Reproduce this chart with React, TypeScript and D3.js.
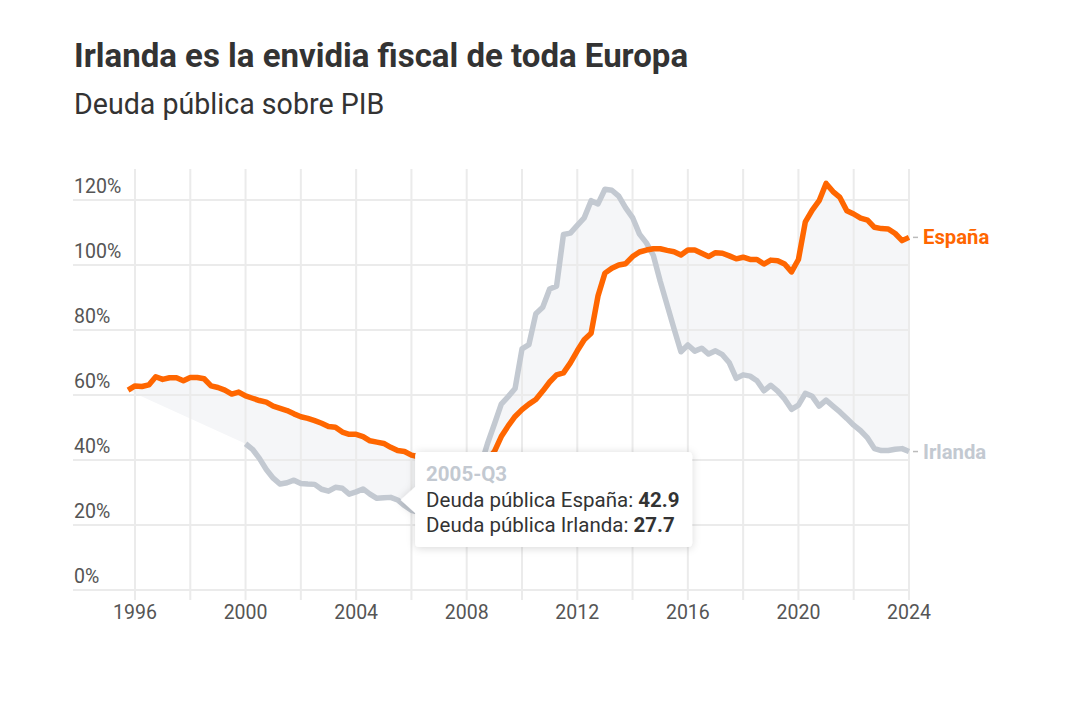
import * as d3 from "d3";

// trimestres: España desde 1995-Q4, Irlanda desde 2000-Q1
const spainStart = 1995.75;
const irelandStart = 2000;

const spain = [
  61.5, 62.8, 62.6, 63.1, 65.6, 64.8, 65.3, 65.3, 64.4, 65.4,
  65.4, 65.0, 62.8, 62.3, 61.5, 60.3, 60.9, 59.7, 59.0, 58.3,
  57.8, 56.6, 55.9, 55.2, 54.2, 53.3, 52.8, 52.1, 51.3, 50.3,
  50.1, 48.6, 47.9, 47.9, 47.2, 45.9, 45.5, 45.1, 43.9, 42.9,
  42.6, 41.5, 41.0, 40.2, 39.0, 38.6, 38.0, 37.0, 35.8, 36.0,
  37.3, 38.5, 40.0, 42.6, 47.2, 50.5, 53.4, 55.5, 57.2, 58.6,
  61.2, 64.0, 66.2, 66.8, 69.9, 73.6, 77.0, 79.0, 90.5, 97.5,
  99.0, 100.0, 100.4, 102.6, 104.0, 104.6, 105.0, 105.0, 104.5, 104.1,
  103.1, 104.6, 104.6, 103.6, 102.6, 103.8, 103.6, 102.8, 101.9, 102.4,
  101.7, 101.7, 100.3, 101.5, 101.3, 100.3, 97.9, 101.7, 113.3, 116.9,
  119.8, 125.1, 122.6, 120.8, 116.7, 115.7, 114.4, 113.8, 111.6, 111.2,
  111.1, 109.7, 107.5, 108.5,
];

const ireland = [
  45.0, 43.3, 40.5, 37.1, 34.4, 32.6, 33.0, 33.8, 32.8, 32.6,
  32.5, 31.0, 30.4, 31.6, 31.3, 29.5, 30.2, 31.1, 29.5, 28.2,
  28.4, 28.5, 27.7, 26.0, 24.5, 24.0, 23.8, 23.6, 24.2, 24.6,
  24.8, 23.9, 25.5, 28.5, 38.0, 45.0, 51.0, 57.2, 59.5, 62.0,
  74.2, 75.5, 85.0, 87.0, 92.6, 93.5, 109.4, 109.8, 112.2, 114.5,
  119.8, 118.8, 123.3, 123.0, 121.2, 117.6, 114.6, 109.5, 106.8, 103.0,
  95.0, 87.7, 80.4, 73.3, 75.4, 73.5, 74.4, 72.6, 73.6, 72.4,
  69.9, 65.1, 66.2, 65.8, 64.4, 61.3, 63.0, 61.2, 58.8, 55.6,
  56.9, 60.5, 59.6, 56.6, 58.4, 56.6, 54.8, 52.8, 50.7, 49.0,
  46.8, 43.5, 42.9, 42.9, 43.3, 43.5, 42.6,
];

const yTicks = [0, 20, 40, 60, 80, 100, 120];
const xLabelYears = [1996, 2000, 2004, 2008, 2012, 2016, 2020, 2024];
const xGridYears = [1996, 1998, 2000, 2002, 2004, 2006, 2008, 2010, 2012, 2014, 2016, 2018, 2020, 2022, 2024];

const hoverQuarter = "2005-Q3";

const W = 1087;
const H = 718;
const orange = "#ff6600";
const grey = "#c3c9d1";
const font = "Roboto, sans-serif";

type Pt = { t: number; v: number };

export default function App() {
  const x = d3.scaleLinear().domain([1996, 2024]).range([135, 909]);
  const y = d3.scaleLinear().domain([0, 120]).range([590, 200]);

  const spainPts: Pt[] = spain.map((v, i) => ({ t: spainStart + i * 0.25, v }));
  const irelandPts: Pt[] = ireland.map((v, i) => ({ t: irelandStart + i * 0.25, v }));

  const line = d3.line<Pt>().x(d => x(d.t)).y(d => y(d.v));

  // sombreado entre las dos series
  const areaPts = [...spainPts, ...irelandPts.slice().reverse()];
  const areaPath = line(areaPts) + "Z";

  const hy = +hoverQuarter.slice(0, 4);
  const hq = +hoverQuarter.slice(-1);
  const ht = hy + (hq - 1) / 4;
  const hs = spainPts.find(d => d.t === ht)!;
  const hi = irelandPts.find(d => d.t === ht)!;
  const tipX = x(ht) + 3;
  const tipY = y(hi.v);
  const bx = tipX + 14.5;
  const by = tipY - 48;
  const bw = 277;
  const bh = 95;
  const r = 4;
  const tooltipPath =
    `M${bx + r},${by} H${bx + bw - r} Q${bx + bw},${by} ${bx + bw},${by + r} ` +
    `V${by + bh - r} Q${bx + bw},${by + bh} ${bx + bw - r},${by + bh} ` +
    `H${bx + r} Q${bx},${by + bh} ${bx},${by + bh - r} ` +
    `V${tipY + 13} L${tipX},${tipY} L${bx},${tipY - 13} ` +
    `V${by + r} Q${bx},${by} ${bx + r},${by} Z`;

  const lastS = spainPts[spainPts.length - 1];
  const lastI = irelandPts[irelandPts.length - 1];

  return (
    <svg width={W} height={H} style={{ position: "absolute", left: 0, top: 0, background: "#fff" }} fontFamily={font}>
      <defs>
        <filter id="shadow" x="-20%" y="-30%" width="140%" height="160%">
          <feDropShadow dx="0" dy="1" stdDeviation="4" floodColor="#000" floodOpacity="0.16" />
        </filter>
      </defs>

      <text x={74} y={67} fontSize={33} fontWeight={700} fill="#333">Irlanda es la envidia fiscal de toda Europa</text>
      <text x={74} y={114} fontSize={28.6} fill="#333">Deuda pública sobre PIB</text>

      <path d={areaPath} fill="#f5f6f8" stroke="none" />

      {xGridYears.map(yr => (
        <line key={"v" + yr} x1={x(yr)} x2={x(yr)} y1={169} y2={600} stroke="#ebebeb" strokeWidth={2} />
      ))}
      {yTicks.map(t => (
        <g key={"h" + t}>
          <line x1={73} x2={x(2024)} y1={y(t)} y2={y(t)} stroke="#ebebeb" strokeWidth={2} />
          <text x={74} y={y(t) - 7} fontSize={19.5} fill="#555">{t}%</text>
        </g>
      ))}
      {xLabelYears.map(yr => (
        <text key={"x" + yr} x={x(yr)} y={619} fontSize={19.5} fill="#555" textAnchor="middle">{yr}</text>
      ))}

      <path d={line(irelandPts)!} fill="none" stroke={grey} strokeWidth={5.5} strokeLinejoin="round" />
      <path d={line(spainPts)!} fill="none" stroke={orange} strokeWidth={5.5} strokeLinejoin="round" />

      <line x1={x(lastS.t) + 4} x2={x(lastS.t) + 9} y1={y(lastS.v)} y2={y(lastS.v)} stroke="#bbb" strokeWidth={1.5} />
      <text x={x(lastS.t) + 14} y={y(lastS.v) + 7} fontSize={20.3} fontWeight={700} fill={orange}>España</text>
      <line x1={x(lastI.t) + 4} x2={x(lastI.t) + 9} y1={y(lastI.v)} y2={y(lastI.v)} stroke="#bbb" strokeWidth={1.5} />
      <text x={x(lastI.t) + 14} y={y(lastI.v) + 7} fontSize={20.3} fontWeight={700} fill={grey}>Irlanda</text>

      <path d={tooltipPath} fill="#fff" filter="url(#shadow)" />
      <text x={bx + 11} y={by + 29} fontSize={20.5} fontWeight={700} fill={grey}>{hoverQuarter}</text>
      <text x={bx + 11} y={by + 55} fontSize={20.5} fill="#333">
        Deuda pública España: <tspan fontWeight={700}>{hs.v.toFixed(1)}</tspan>
      </text>
      <text x={bx + 11} y={by + 80} fontSize={20.5} fill="#333">
        Deuda pública Irlanda: <tspan fontWeight={700}>{hi.v.toFixed(1)}</tspan>
      </text>
    </svg>
  );
}
